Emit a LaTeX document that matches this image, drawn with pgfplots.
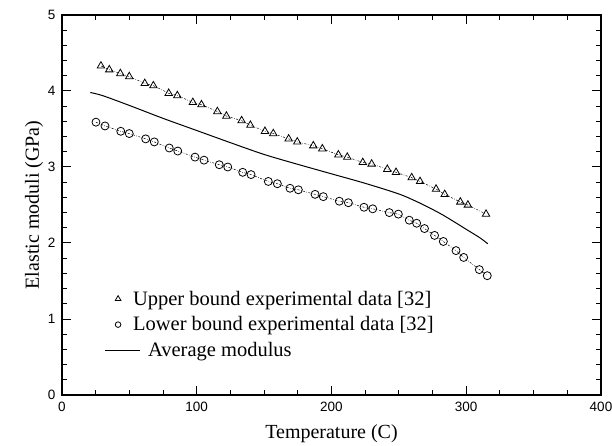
\documentclass[border=0pt]{standalone}
\usepackage{fontspec}
\setmainfont{Liberation Serif}
\newfontfamily\tickfont{Liberation Sans}
\usepackage{pgfplots}
\pgfplotsset{compat=1.18}
\begin{document}
\begin{tikzpicture}
\begin{axis}[
  scale only axis,
  width=539bp, height=380bp,
  xmin=0, xmax=400, ymin=0, ymax=5,
  xtick={0,100,200,300,400}, ytick={0,1,2,3,4,5},
  minor x tick num=3, minor y tick num=4,
  tick align=inside,
  major tick length=9bp, minor tick length=5bp,
  every tick/.style={black, line width=1bp},
  axis line style={line width=1.8bp},
  /pgf/number format/assume math mode=true,
  tick label style={font=\tickfont\fontsize{13.5bp}{15bp}\selectfont},
  xticklabel style={yshift=-4bp},
  yticklabel style={xshift=-3bp},
  xlabel={Temperature (C)},
  ylabel={Elastic moduli (GPa)},
  label style={font=\fontsize{20bp}{24bp}\selectfont},
  xlabel style={yshift=-6bp},
  ylabel style={yshift=-2bp},
  legend cell align=left,
  legend style={draw=none, fill=none, at={(0.074,0.282)}, anchor=north west,
    font=\fontsize{20.5bp}{24bp}\selectfont, row sep=8bp, column sep=0bp,
    nodes={inner sep=1bp}},
]
\addplot[black, line width=0.5bp, dash pattern=on 2bp off 1.5bp on 0.6bp off 1.5bp,
  mark=triangle, mark size=4.3bp, mark options={solid, line width=0.8bp},
  legend image code/.code={\path[draw=none, fill=none] (0,-4bp) rectangle (27bp,4bp);
    \draw[solid, line width=0.7bp, overlay] plot[mark=triangle, mark size=3.3bp] coordinates {(13bp,0bp)};}]
coordinates {
(28.9,4.33) (35.1,4.28) (43.3,4.23) (49.9,4.19) (61.4,4.10) (67.8,4.07)
(79.2,3.97) (85.6,3.94) (97.1,3.85) (103.5,3.82) (115.3,3.73) (122.0,3.67)
(133.3,3.61) (139.8,3.55) (150.6,3.47) (156.8,3.44) (168.2,3.37) (174.6,3.33)
(186.5,3.28) (193.2,3.24) (205.1,3.16) (211.7,3.13) (223.2,3.06) (229.8,3.04)
(241.4,2.97) (247.9,2.93) (259.5,2.86) (265.7,2.81) (277.6,2.71) (284.0,2.64)
(295.6,2.54) (301.2,2.50) (314.7,2.38)
};
\addlegendentry{Upper bound experimental data [32]}
\addplot[black, line width=0.5bp, dash pattern=on 2bp off 1.5bp on 0.6bp off 1.5bp,
  mark=o, mark size=4bp, mark options={solid, line width=0.8bp},
  legend image code/.code={\path[draw=none, fill=none] (0,-4bp) rectangle (27bp,4bp);
    \draw[solid, line width=0.7bp, overlay] plot[mark=o, mark size=2.8bp] coordinates {(13bp,0bp)};}]
coordinates {
(25.2,3.59) (31.9,3.54) (43.6,3.47) (49.9,3.44) (62.1,3.37) (68.5,3.33)
(79.6,3.25) (85.9,3.21) (98.7,3.13) (105.4,3.09) (116.7,3.03) (123.0,3.00)
(134.1,2.93) (140.3,2.90) (153.1,2.81) (159.8,2.78) (169.2,2.72) (175.4,2.70)
(187.8,2.64) (193.9,2.61) (205.8,2.55) (212.5,2.53) (224.1,2.47) (230.6,2.45)
(242.9,2.40) (249.6,2.38) (257.7,2.30) (263.2,2.26) (269.0,2.19) (276.5,2.10)
(283.0,2.02) (292.4,1.90) (298.1,1.81) (309.7,1.65) (315.6,1.57)
};
\addlegendentry{Lower bound experimental data [32]}
\addplot[black, line width=1bp, smooth,
  legend image code/.code={\path[draw=none, fill=none] (0,-4bp) rectangle (27bp,4bp);
    \draw[line width=1bp, overlay] (0bp,0bp) -- (35bp,0bp);}]
coordinates {
(21,3.98) (30,3.94) (50,3.81) (75,3.64) (100,3.48) (125,3.32) (150,3.165)
(175,3.035) (200,2.91) (225,2.785) (250,2.645) (265,2.53) (280,2.395)
(290,2.29) (300,2.18) (310,2.07) (316,1.99)
};
\addlegendentry{\hspace*{15bp}Average modulus}
\end{axis}
\pgfresetboundingbox
\path (-62bp,-51bp) rectangle (550bp,395bp);
\end{tikzpicture}
\end{document}
